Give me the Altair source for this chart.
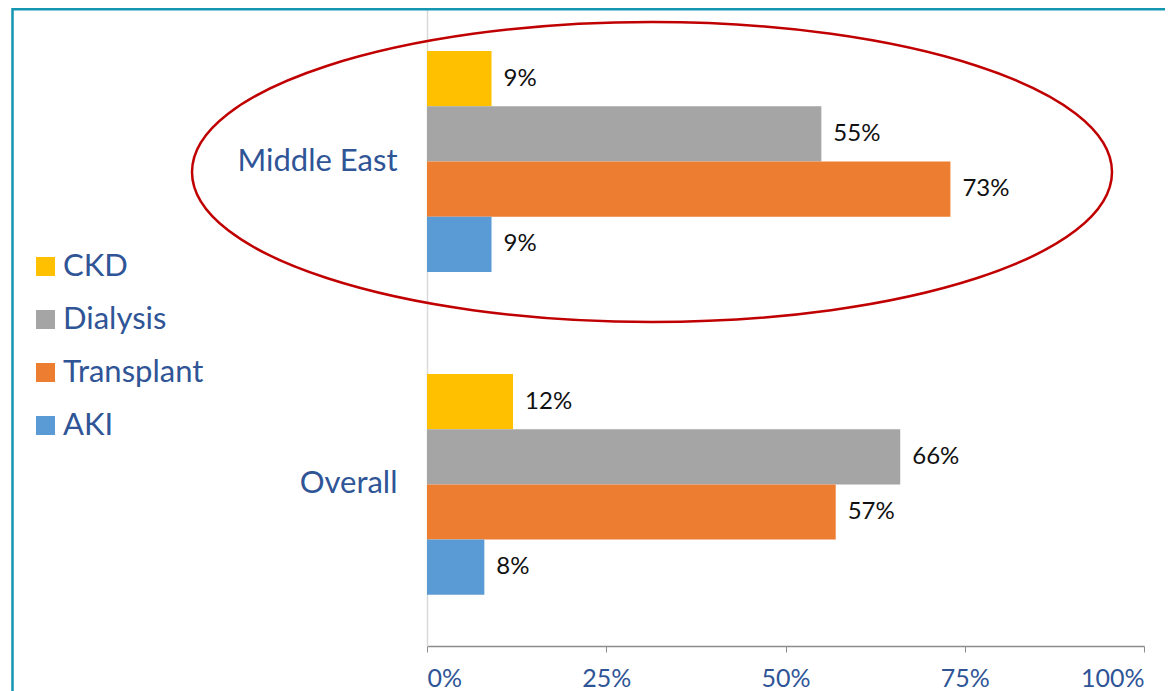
import altair as alt
import pandas as pd

groups = ["Middle East", "Overall"]
series = ["CKD", "Dialysis", "Transplant", "AKI"]
middle_east = [9, 55, 73, 9]
overall = [12, 66, 57, 8]
colors = ["#FFC000", "#A5A5A5", "#ED7D31", "#5B9BD5"]
x_ticks = [0, 25, 50, 75, 100]

BLUE = "#2F5597"
FONT = "Lato"

rows = []
for g, vals in zip(groups, [middle_east, overall]):
    for s, v in zip(series, vals):
        rows.append({"group": g, "series": s, "value": v, "label": f"{v}%"})
df = pd.DataFrame(rows)

W, H = 717, 638

y_enc = alt.Y(
    "group:N",
    sort=groups,
    scale=alt.Scale(paddingInner=0.316, paddingOuter=0.146, align=0.457),
    axis=alt.Axis(
        title=None, labelFontSize=31, labelColor=BLUE, labelFont=FONT,
        labelPadding=30, ticks=False, domainColor="#D9D9D9", domainWidth=1.5,
        labelFontWeight="normal",
    ),
)
yoff = alt.YOffset("series:N", sort=series, scale=alt.Scale(paddingInner=0, paddingOuter=0))
x_enc = alt.X(
    "value:Q",
    scale=alt.Scale(domain=[0, 100], nice=False),
    axis=alt.Axis(
        values=x_ticks, labelExpr="datum.value + '%'", grid=False, title=None,
        labelFontSize=25, labelColor=BLUE, labelFont=FONT, labelPadding=14,
        tickSize=6, tickColor="#8C8C8C", domainColor="#8C8C8C", domainWidth=1.5,
        labelFontWeight="normal",
    ),
)

color_enc = alt.Color(
    "series:N",
    sort=series,
    scale=alt.Scale(domain=series, range=colors),
    legend=alt.Legend(
        orient="none", legendX=-397, legendY=243, title=None,
        symbolType="square", symbolSize=361, labelFontSize=31, labelFont=FONT,
        labelColor=BLUE, rowPadding=21, labelOffset=2, symbolStrokeWidth=0,
        symbolOpacity=1,
    ),
)

base = alt.Chart(df)
bars = base.mark_bar(opacity=1).encode(x=x_enc, y=y_enc, yOffset=yoff, color=color_enc)
text = base.mark_text(align="left", baseline="middle", dx=12, font=FONT, fontSize=24, color="#111111").encode(
    x="value:Q", y=alt.Y("group:N", sort=groups), yOffset=alt.YOffset("series:N", sort=series), text="label:N"
)

one = pd.DataFrame({"a": [0]})
border = alt.Chart(one).mark_rect(fillOpacity=0, stroke="#1496B2", strokeWidth=2.5).encode(
    x=alt.value(-414.5), x2=alt.value(900), y=alt.value(1.2), y2=alt.value(900)
)
ellipse_path = (
    "M -1 0 C -1 -0.18 -0.5523 -0.326 0 -0.326 "
    "C 0.5523 -0.326 1 -0.18 1 0 "
    "C 1 0.18 0.5523 0.326 0 0.326 "
    "C -0.5523 0.326 -1 0.18 -1 0 Z"
)
ellipse = alt.Chart(one).mark_point(
    shape=ellipse_path, size=846400, filled=False, stroke="#C00000", strokeWidth=2.5, opacity=1
).encode(x=alt.value(225), y=alt.value(164))

chart = alt.layer(bars, text, ellipse, border).properties(
    width=W, height=H,
    autosize=alt.AutoSizeParams(type="none"),
    padding={"left": 419, "top": 0, "right": 21, "bottom": 45},
).configure_view(stroke="transparent")

chart.save("out.html", embed_options={"renderer": "svg", "actions": False})
